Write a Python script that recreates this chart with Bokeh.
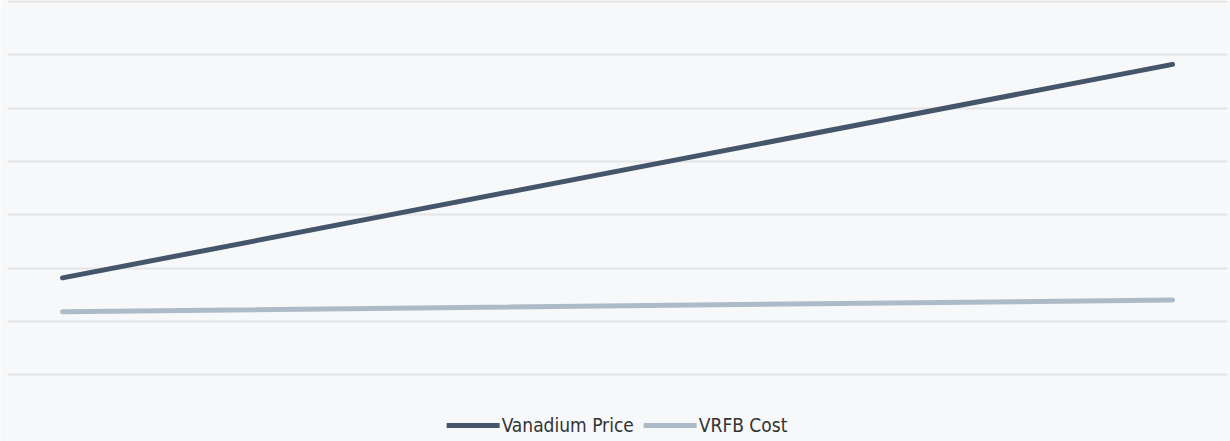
from bokeh.plotting import figure
from bokeh.models import Range1d, FixedTicker, Legend, LegendItem
from bokeh.embed import file_html
from bokeh.resources import INLINE

# Data (grid step = 1 unit)
periods = [0, 1]
vanadium_price = [1.815, 5.82]
vrfb_cost = [1.18, 1.40]
grid_ticks = [0, 1, 2, 3, 4, 5, 6, 7]

BG = "#f7f8fa"
DARK = "#45556a"
LIGHT = "#adbbc8"

p = figure(width=1230, height=441, output_backend="svg", toolbar_location=None,
           x_range=Range1d(-0.04955, 1.04955), y_range=Range1d(-1.254, 7.0187),
           min_border_left=7, min_border_right=3, min_border_top=0, min_border_bottom=0,
           background_fill_color=BG, border_fill_color=BG)
p.outline_line_color = None
p.xaxis.visible = False
p.yaxis.visible = False
p.xgrid.grid_line_color = None
p.yaxis.ticker = FixedTicker(ticks=grid_ticks)
p.ygrid.ticker = FixedTicker(ticks=grid_ticks)
p.ygrid.grid_line_color = "#e4e4e4"
p.ygrid.grid_line_width = 2

r1 = p.line(periods, vanadium_price, line_color=DARK, line_width=5, line_cap="round")
r2 = p.line(periods, vrfb_cost, line_color=LIGHT, line_width=5, line_cap="round")

legend = Legend(items=[LegendItem(label="Vanadium Price", renderers=[r1]),
                       LegendItem(label="VRFB Cost", renderers=[r2])],
                location="bottom_center", orientation="horizontal",
                background_fill_alpha=0, border_line_color=None,
                label_text_font="'DejaVu Sans Condensed', 'DejaVu Sans'",
                label_text_font_size="19px",
                label_text_color="#333333", glyph_width=53, glyph_height=20,
                label_standoff=2, spacing=10, padding=0, margin=5)
p.add_layout(legend)

html = file_html(p, INLINE)
html = html.replace("<body>", '<body style="margin:0;background:%s">' % BG, 1)
open("out.html", "w").write(html)
